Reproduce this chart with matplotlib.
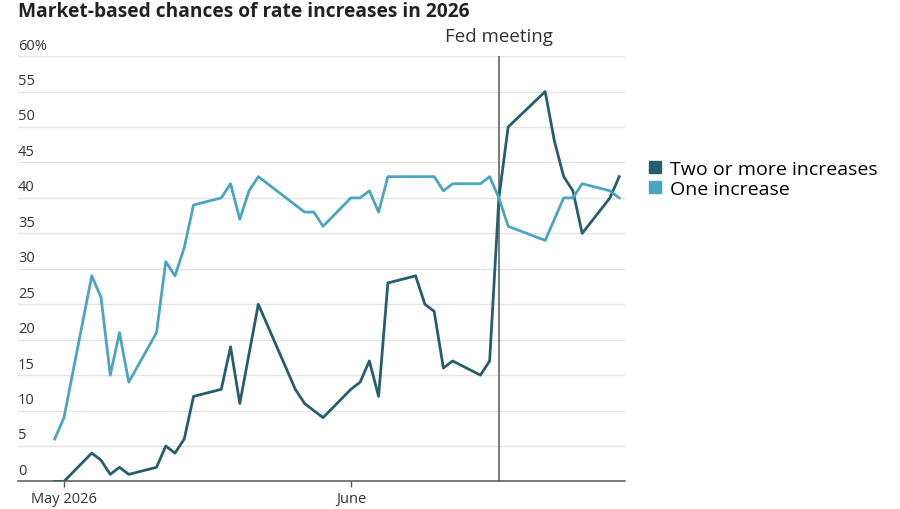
import pandas as pd
import matplotlib.pyplot as plt
import matplotlib.transforms as mtransforms
from matplotlib.lines import Line2D

plt.rcParams["font.family"] = ["Open Sans", "DejaVu Sans"]

dates = pd.to_datetime([
    "2026-04-30", "2026-05-01", "2026-05-04", "2026-05-05", "2026-05-06", "2026-05-07",
    "2026-05-08", "2026-05-11", "2026-05-12", "2026-05-13", "2026-05-14", "2026-05-15",
    "2026-05-18", "2026-05-19", "2026-05-20", "2026-05-21", "2026-05-22", "2026-05-26",
    "2026-05-27", "2026-05-28", "2026-05-29", "2026-06-01", "2026-06-02", "2026-06-03",
    "2026-06-04", "2026-06-05", "2026-06-08", "2026-06-09", "2026-06-10", "2026-06-11",
    "2026-06-12", "2026-06-15", "2026-06-16", "2026-06-17", "2026-06-18", "2026-06-22",
    "2026-06-23", "2026-06-24", "2026-06-25", "2026-06-26", "2026-06-29", "2026-06-30",
])
two_or_more = [0, 0, 4, 3, 1, 2, 1, 2, 5, 4, 6, 12, 13, 19, 11, 18, 25, 13, 11, 10, 9,
               13, 14, 17, 12, 28, 29, 25, 24, 16, 17, 15, 17, 40, 50, 55, 48, 43, 41, 35,
               40, 43]
one_increase = [6, 9, 29, 26, 15, 21, 14, 21, 31, 29, 33, 39, 40, 42, 37, 41, 43, 39, 38,
                38, 36, 40, 40, 41, 38, 43, 43, 43, 43, 41, 42, 42, 43, 40, 36, 34, 37, 40,
                40, 42, 41, 40]
fed_meeting = pd.Timestamp("2026-06-17")
y_ticks = [0, 5, 10, 15, 20, 25, 30, 35, 40, 45, 50, 55, 60]

dark = "#255f6e"
light = "#4aa5c0"

fig = plt.figure(figsize=(9, 5.1), dpi=100)
ax = fig.add_axes([0.02, 0.054, 0.674, 0.834])

ax.plot(dates, two_or_more, color=dark, lw=2.0, zorder=3)
ax.plot(dates, one_increase, color=light, lw=2.0, zorder=3)
ax.axvline(fed_meeting, color="#555555", lw=1.1, zorder=2)
ax.text(fed_meeting, 61.6, "Fed meeting", ha="center", va="bottom", fontsize=13.5,
        color="#333333")

ax.set_ylim(0, 60)
ax.set_xlim(pd.Timestamp("2026-04-26 00:45"), pd.Timestamp("2026-06-30 14:00"))

# horizontal grid with labels sitting on top of the lines
ax.set_yticks(y_ticks)
ax.yaxis.grid(True, color="#e4e4e4", lw=1)
ax.tick_params(axis="y", length=0, labelleft=False)
trans = mtransforms.blended_transform_factory(ax.transAxes, ax.transData)
for v in y_ticks:
    lab = f"{v}%" if v == 60 else str(v)
    ax.text(0.0, v + 0.5, lab, transform=trans, ha="left", va="bottom",
            fontsize=10.5, color="#333333")

ax.set_xticks(pd.to_datetime(["2026-05-01", "2026-06-01"]))
ax.set_xticklabels(["May 2026", "June"])
ax.tick_params(axis="x", length=4, width=1, color="#555555", labelsize=10.5,
               labelcolor="#333333", pad=3)

for s in ["top", "right", "left"]:
    ax.spines[s].set_visible(False)
ax.spines["bottom"].set_color("#555555")
ax.spines["bottom"].set_linewidth(1.1)

fig.text(0.02, 0.997, "Market-based chances of rate increases in 2026",
         fontsize=13.8, fontweight="bold", color="#222222", va="top", ha="left")

handles = [Line2D([], [], marker="s", ls="none", ms=9, color=dark),
           Line2D([], [], marker="s", ls="none", ms=9, color=light)]
fig.legend(handles, ["Two or more increases", "One increase"], loc="upper left",
           bbox_to_anchor=(0.706, 0.70), frameon=False, fontsize=14,
           handletextpad=0.2, labelspacing=0.12, handlelength=1.2, borderaxespad=0)

fig.savefig("out.png", dpi=100)
